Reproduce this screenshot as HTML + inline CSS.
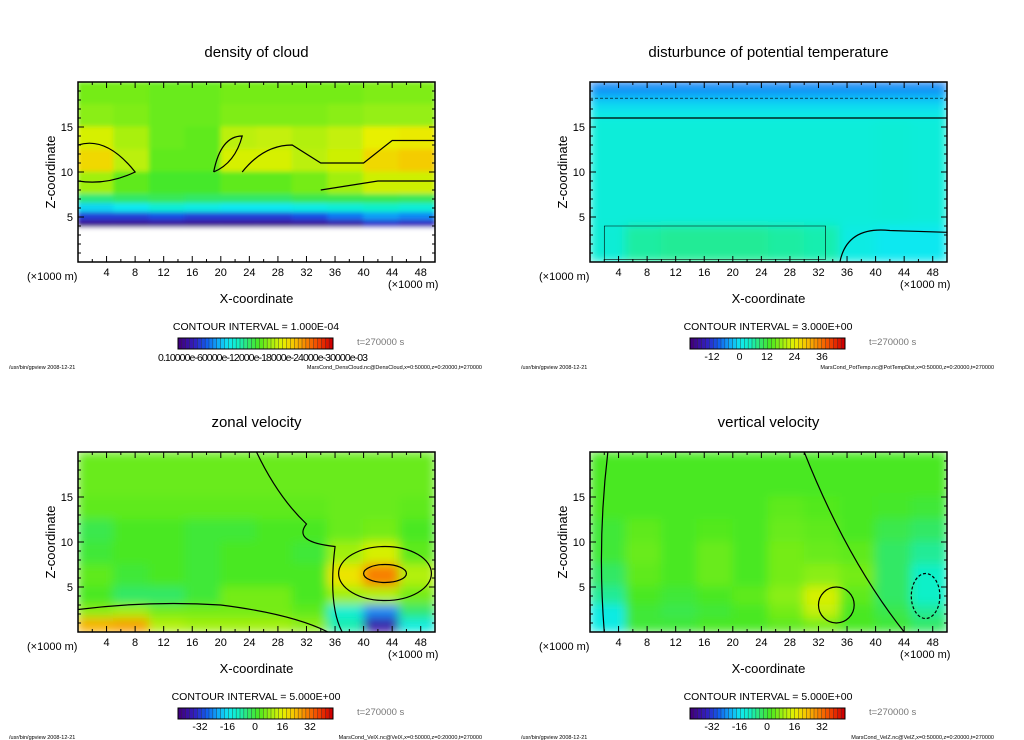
<!DOCTYPE html>
<html><head><meta charset="utf-8">
<style>
body{margin:0;background:#fff;}
svg{display:block;font-family:"Liberation Sans",sans-serif;}
</style></head>
<body>
<svg id="chart" width="1024" height="740" viewBox="0 0 1024 740" xmlns="http://www.w3.org/2000/svg">
<defs>
<filter id="bl" x="-5%" y="-5%" width="110%" height="110%"><feGaussianBlur stdDeviation="5" edgeMode="duplicate"/></filter>
<filter id="bls" x="-5%" y="-5%" width="110%" height="110%"><feGaussianBlur stdDeviation="2.5" edgeMode="duplicate"/></filter>
<clipPath id="c1"><rect x="78" y="82" width="357" height="180"/></clipPath>
<clipPath id="c2"><rect x="590" y="82" width="357" height="180"/></clipPath>
<clipPath id="c3"><rect x="78" y="452" width="357" height="180"/></clipPath>
<clipPath id="c4"><rect x="590" y="452" width="357" height="180"/></clipPath>
</defs>
</svg>
<script>
// ---- data ----
const xTicks = [4,8,12,16,20,24,28,32,36,40,44,48];
const zTicks = [5,10,15];
const titles = ["density of cloud","disturbunce of potential temperature","zonal velocity","vertical velocity"];
const intervals = ["CONTOUR INTERVAL = 1.000E-04","CONTOUR INTERVAL = 3.000E+00","CONTOUR INTERVAL = 5.000E+00","CONTOUR INTERVAL = 5.000E+00"];
const cbLabels1 = ["0.10000e-60000e-12000e-18000e-24000e-30000e-03"];
const cbLabels2 = ["-12","0","12","24","36"];
const cbLabels34 = ["-32","-16","0","16","32"];
const footers = ["MarsCond_DensCloud.nc@DensCloud,x=0:50000,z=0:20000,t=270000","MarsCond_PotTemp.nc@PotTempDist,x=0:50000,z=0:20000,t=270000","MarsCond_VelX.nc@VelX,x=0:50000,z=0:20000,t=270000","MarsCond_VelZ.nc@VelZ,x=0:50000,z=0:20000,t=270000"];
const xEdges = [0,5,10,15,20,25,30,35,40,45,50];
// panel 1: density of cloud (rows top->bottom), -1 = no cloud
const zEdges1 = [20,17.5,15,12.5,10,7.5,6.5,5.5,4.6,3.8,0];
const vals1 = [
 [0.56,0.56,0.55,0.55,0.56,0.56,0.56,0.56,0.57,0.57],
 [0.58,0.57,0.55,0.55,0.57,0.57,0.57,0.58,0.59,0.59],
 [0.66,0.61,0.55,0.54,0.63,0.64,0.62,0.64,0.68,0.69],
 [0.72,0.63,0.54,0.54,0.66,0.66,0.63,0.65,0.72,0.74],
 [0.60,0.54,0.51,0.51,0.54,0.54,0.56,0.60,0.65,0.65],
 [0.44,0.46,0.47,0.46,0.46,0.46,0.48,0.48,0.48,0.47],
 [0.30,0.32,0.36,0.34,0.32,0.32,0.34,0.36,0.38,0.36],
 [0.14,0.14,0.16,0.14,0.14,0.14,0.16,0.20,0.24,0.22],
 [0.03,0.03,0.04,0.03,0.03,0.03,0.04,0.06,0.12,0.10],
 [-1,-1,-1,-1,-1,-1,-1,-1,-1,-1]];
// panel 2: potential temperature disturbance
const zEdges2 = [20,19,18,17,16,4,0];
const vals2 = [
 [0.21,0.21,0.21,0.21,0.21,0.21,0.21,0.21,0.21,0.21],
 [0.25,0.25,0.25,0.25,0.25,0.25,0.25,0.25,0.25,0.25],
 [0.30,0.30,0.30,0.30,0.30,0.30,0.30,0.30,0.30,0.30],
 [0.33,0.33,0.33,0.33,0.33,0.33,0.33,0.33,0.33,0.33],
 [0.355,0.355,0.355,0.355,0.355,0.355,0.355,0.355,0.36,0.355],
 [0.36,0.41,0.42,0.42,0.42,0.41,0.40,0.34,0.32,0.32]];
// panel 3: zonal velocity
const zEdges34 = [20,15,12.5,10,7.5,5,3,1.5,0];
const vals3 = [
 [0.55,0.55,0.55,0.55,0.55,0.55,0.55,0.55,0.55,0.55],
 [0.54,0.54,0.54,0.54,0.54,0.54,0.54,0.55,0.55,0.54],
 [0.48,0.52,0.52,0.50,0.50,0.52,0.52,0.55,0.56,0.52],
 [0.50,0.52,0.52,0.50,0.52,0.52,0.50,0.60,0.66,0.54],
 [0.54,0.50,0.52,0.50,0.52,0.52,0.52,0.70,0.84,0.62],
 [0.52,0.46,0.46,0.50,0.56,0.56,0.52,0.60,0.62,0.56],
 [0.58,0.60,0.56,0.56,0.56,0.56,0.54,0.36,0.22,0.45],
 [0.78,0.80,0.62,0.60,0.60,0.60,0.58,0.40,0.06,0.35]];
// panel 4: vertical velocity
const vals4 = [
 [0.52,0.52,0.52,0.52,0.52,0.52,0.52,0.52,0.52,0.52],
 [0.52,0.52,0.52,0.52,0.52,0.54,0.53,0.52,0.51,0.50],
 [0.50,0.54,0.52,0.53,0.52,0.55,0.54,0.52,0.48,0.46],
 [0.50,0.55,0.52,0.55,0.52,0.56,0.55,0.54,0.46,0.42],
 [0.46,0.54,0.52,0.55,0.52,0.56,0.58,0.56,0.46,0.38],
 [0.42,0.52,0.50,0.52,0.54,0.58,0.66,0.54,0.46,0.38],
 [0.34,0.50,0.48,0.50,0.52,0.56,0.64,0.52,0.48,0.42],
 [0.34,0.50,0.50,0.52,0.52,0.54,0.56,0.52,0.50,0.46]];

const stops=[[0,"#400080"],[0.10,"#3020c0"],[0.18,"#1060f0"],[0.25,"#10a8f8"],[0.32,"#10e8f0"],[0.38,"#10f0c8"],[0.45,"#30e870"],[0.52,"#48e820"],[0.60,"#a0f010"],[0.68,"#e8f000"],[0.76,"#f8c000"],[0.84,"#f88000"],[0.92,"#f04000"],[1,"#d00000"]];
function hex(c){return [1,3,5].map(i=>parseInt(c.substr(i,2),16));}
function cmap(v){
  if(v<0) return "#ffffff";
  for(let i=1;i<stops.length;i++){ if(v<=stops[i][0]){const a=stops[i-1],b=stops[i];const t=(v-a[0])/(b[0]-a[0]);const A=hex(a[1]),B=hex(b[1]);return "rgb("+A.map((x,k)=>Math.round(x+(B[k]-x)*t)).join(",")+")";}}
  return stops[stops.length-1][1];
}
const NS="http://www.w3.org/2000/svg";
const svg=document.getElementById("chart");
function mk(tag,attrs,parent,text){const e=document.createElementNS(NS,tag);for(const k in attrs)e.setAttribute(k,attrs[k]);if(text!==undefined)e.textContent=text;(parent||svg).appendChild(e);return e;}

const panels=[{ox:78,oy:82,ze:zEdges1,v:vals1,cb:cbLabels1},{ox:590,oy:82,ze:zEdges2,v:vals2,cb:cbLabels2},{ox:78,oy:452,ze:zEdges34,v:vals3,cb:cbLabels34},{ox:590,oy:452,ze:zEdges34,v:vals4,cb:cbLabels34}];
const W=357,H=180;
panels.forEach((p,pi)=>{
  const sx=x=>p.ox+x/50*W, sz=z=>p.oy+H-z/20*H;
  const g=mk("g",{});
  
  
  const t=mk("text",{x:p.ox+W/2,y:p.oy-25,"text-anchor":"middle","font-size":"15"},g,titles[pi]);
  
  
  const hg=mk("g",{"clip-path":"url(#c"+(pi+1)+")"},g);
  const hb=mk("g",{filter:pi===0?"url(#bls)":"url(#bl)"},hg);
  
  
  p.v.forEach((row,r)=>row.forEach((val,c)=>{
    const x0=sx(xEdges[c]),x1=sx(xEdges[c+1]),y0=sz(p.ze[r]),y1=sz(p.ze[r+1]);
    const cell=mk("rect",{x:x0-0.5,y:y0-0.5,width:x1-x0+1,height:y1-y0+1,fill:cmap(val)},hb);
    
    
  }));
  const cl=mk("g",{fill:"none",stroke:"#000","stroke-width":"1.2"},hg);
  
  
  if(pi===1){
    mk("line",{x1:sx(0),y1:sz(16),x2:sx(50),y2:sz(16)},cl);
    mk("line",{x1:sx(0),y1:sz(18.2),x2:sx(50),y2:sz(18.2),"stroke-dasharray":"3,2","stroke-width":"0.6"},cl);
    mk("path",{d:`M${sx(2)},${sz(4)} L${sx(33)},${sz(4)} L${sx(33)},${sz(0.3)} L${sx(2)},${sz(0.3)} Z`,"stroke-width":"0.6"},cl);
    mk("path",{d:`M${sx(35)},${sz(0)} Q${sx(36)},${sz(4)} ${sx(42)},${sz(3.5)} L${sx(50)},${sz(3.3)}`},cl);
  }
  if(pi===0){
    mk("path",{d:`M${sx(0)},${sz(13)} Q${sx(4)},${sz(14)} ${sx(8)},${sz(10)} Q${sx(4)},${sz(8.5)} ${sx(0)},${sz(9)}`},cl);
    mk("path",{d:`M${sx(19)},${sz(10)} Q${sx(20)},${sz(14)} ${sx(23)},${sz(14)} Q${sx(22)},${sz(11)} ${sx(19)},${sz(10)}`},cl);
    mk("path",{d:`M${sx(23)},${sz(10)} Q${sx(26)},${sz(13)} ${sx(30)},${sz(13)} L${sx(34)},${sz(11)} L${sx(40)},${sz(11)} L${sx(44)},${sz(13.5)} L${sx(50)},${sz(13.5)} M${sx(34)},${sz(8)} L${sx(42)},${sz(9)} L${sx(50)},${sz(9)}`},cl);
  }
  if(pi===2){
    mk("ellipse",{cx:sx(43),cy:sz(6.5),rx:sx(3)-sx(0),ry:H*1/20},cl);
    mk("ellipse",{cx:sx(43),cy:sz(6.5),rx:sx(6.5)-sx(0),ry:H*3/20},cl);
    mk("path",{d:`M${sx(0)},${sz(2.5)} Q${sx(10)},${sz(3.5)} ${sx(20)},${sz(3)} Q${sx(30)},${sz(2)} ${sx(35)},${sz(0)}`},cl);
    mk("path",{d:`M${sx(25)},${sz(20)} Q${sx(28)},${sz(15)} ${sx(32)},${sz(12)} Q${sx(30)},${sz(10)} ${sx(36)},${sz(9.5)} Q${sx(35)},${sz(3)} ${sx(37)},${sz(0)}`},cl);
  }
  if(pi===3){
    mk("path",{d:`M${sx(2.5)},${sz(20)} Q${sx(1)},${sz(10)} ${sx(2)},${sz(0)}`},cl);
    mk("path",{d:`M${sx(30)},${sz(20)} Q${sx(36)},${sz(8)} ${sx(44)},${sz(0)}`},cl);
    mk("ellipse",{cx:sx(34.5),cy:sz(3),rx:sx(2.5)-sx(0),ry:H*2/20},cl);
    mk("ellipse",{cx:sx(47),cy:sz(4),rx:sx(2)-sx(0),ry:H*2.5/20,"stroke-dasharray":"3,2"},cl);
  }
  const ax=mk("g",{stroke:"#000","stroke-width":"1",fill:"none"},g);
  
  
  mk("rect",{x:p.ox,y:p.oy,width:W,height:H,"stroke-width":"1.5"},ax);
  for(let x=2;x<50;x+=2){const L=(x%4===0)?6:3;mk("line",{x1:sx(x),y1:p.oy+H,x2:sx(x),y2:p.oy+H-L},ax);mk("line",{x1:sx(x),y1:p.oy,x2:sx(x),y2:p.oy+L},ax);}
  for(let z=1;z<20;z++){const L=(z%5===0)?6:3;mk("line",{x1:p.ox,y1:sz(z),x2:p.ox+L,y2:sz(z)},ax);mk("line",{x1:p.ox+W,y1:sz(z),x2:p.ox+W-L,y2:sz(z)},ax);}
  xTicks.forEach(x=>{const e=mk("text",{x:sx(x),y:p.oy+H+14,"text-anchor":"middle","font-size":"11"},g,String(x));});
  zTicks.forEach(z=>{const e=mk("text",{x:p.ox-5,y:sz(z)+4,"text-anchor":"end","font-size":"11"},g,String(z));});
  let e=mk("text",{x:p.ox-51,y:p.oy+H+18,"font-size":"11"},g,"(×1000 m)");
  e=mk("text",{x:p.ox+W-47,y:p.oy+H+26,"font-size":"11"},g,"(×1000 m)");
  e=mk("text",{x:p.ox+W/2,y:p.oy+H+41,"text-anchor":"middle","font-size":"13"},g,"X-coordinate");
  e=mk("text",{x:0,y:0,"text-anchor":"middle","font-size":"13",transform:`translate(${p.ox-23},${p.oy+H/2}) rotate(-90)`},g,"Z-coordinate");
  e=mk("text",{x:p.ox+178,y:p.oy+H+68,"text-anchor":"middle","font-size":"10.5"},g,intervals[pi]);
  const cb=mk("g",{},g);
  
  
  const cx0=p.ox+100,cw=155,n=40;
  for(let i=0;i<n;i++){mk("rect",{x:cx0+i*cw/n,y:p.oy+H+76,width:cw/n+0.3,height:11,fill:cmap(i/(n-1)),stroke:"#333","stroke-width":"0.4"},cb);}
  mk("rect",{x:cx0,y:p.oy+H+76,width:cw,height:11,fill:"none",stroke:"#000","stroke-width":"1"},cb);
  if(p.cb.length===1){
    e=mk("text",{x:cx0+85,y:p.oy+H+99,"text-anchor":"middle","font-size":"10.5","textLength":"210"},g,p.cb[0]);
    
  } else {
    p.cb.forEach((lab,i)=>{e=mk("text",{x:cx0+22+i*27.5,y:p.oy+H+98,"text-anchor":"middle","font-size":"10.5"},g,lab);});
  }
  e=mk("text",{x:p.ox+279,y:p.oy+H+83,"font-size":"9.5",fill:"#777"},g,"t=270000 s");
  e=mk("text",{x:p.ox-69,y:p.oy+H+107,"font-size":"5.5"},g,"/usr/bin/gpview   2008-12-21");
  e=mk("text",{x:p.ox+404,y:p.oy+H+107,"font-size":"5.5","text-anchor":"end"},g,footers[pi]);
});
</script>
</body></html>
